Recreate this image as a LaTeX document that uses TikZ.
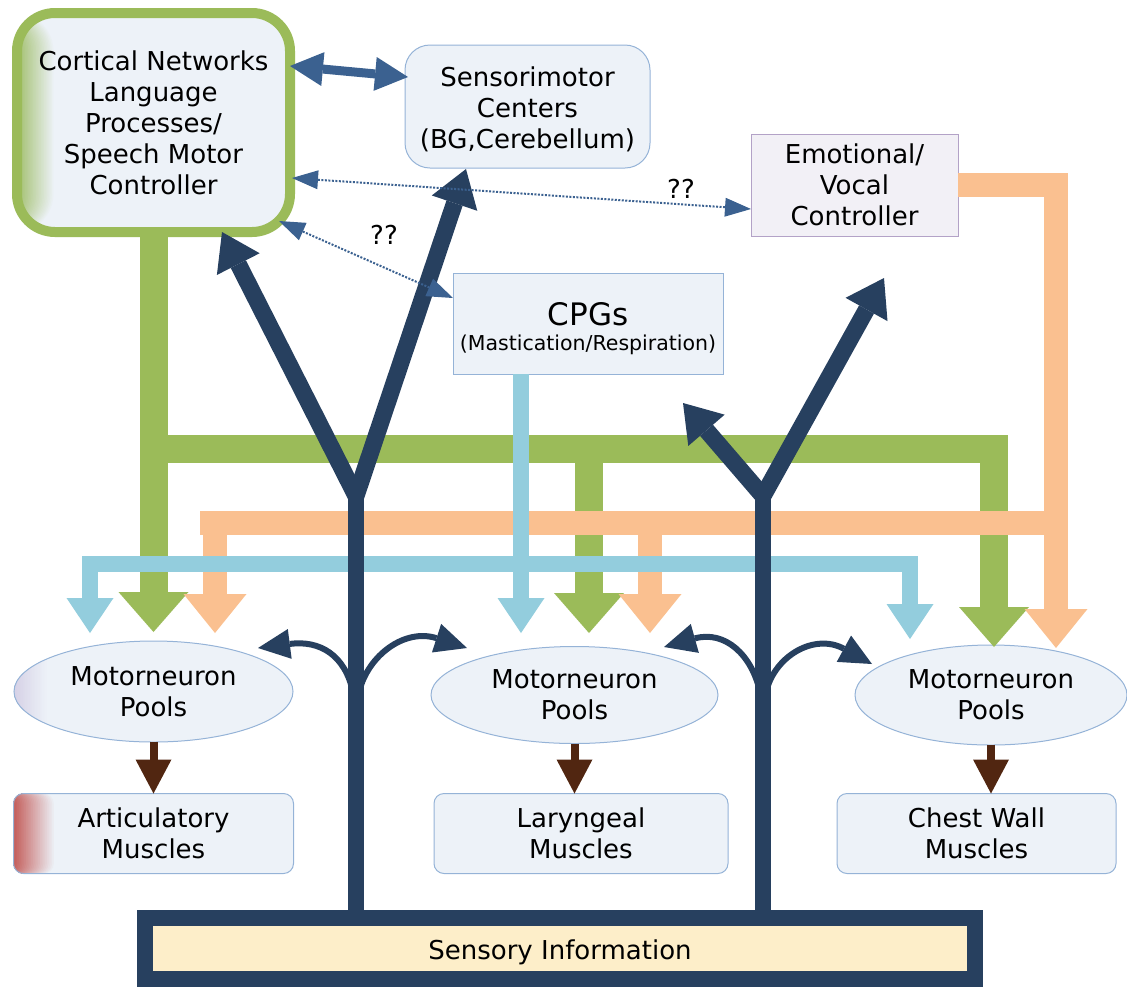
\documentclass[tikz,border=0pt]{standalone}
\usepackage{fontspec}
\setmainfont{DejaVu Sans}
\usetikzlibrary{arrows.meta,shapes.geometric}
\definecolor{navy}{HTML}{27405F}
\definecolor{grn}{HTML}{9BBB59}
\definecolor{org}{HTML}{FAC090}
\definecolor{lblue}{HTML}{93CDDD}
\definecolor{boxfill}{HTML}{EDF2F8}
\definecolor{boxline}{HTML}{95B3D7}
\definecolor{emofill}{HTML}{F2F0F6}
\definecolor{emoline}{HTML}{B3A2C7}
\definecolor{midblue}{HTML}{3B6190}
\definecolor{brwn}{HTML}{512611}
\definecolor{cream}{HTML}{FDEEC9}
\definecolor{redgrad}{HTML}{C45F5C}
\definecolor{lavgrad}{HTML}{D6D1E6}
\definecolor{grngrad}{HTML}{A3C06F}
\begin{document}
\begin{tikzpicture}[x=1pt,y=-1pt,
  txt/.style={font=\fontsize{26}{31}\selectfont, align=center, text=black},
  box/.style={txt, draw=boxline, line width=1pt, fill=boxfill, inner sep=0pt, outer sep=0pt},
  leftshade/.style 2 args={path picture={
     \foreach \i in {24,23,...,1} {
       \pgfmathsetmacro\pct{100-100*(\i-1)/23}
       \fill[#1!\pct!boxfill] (path picture bounding box.south west)
          rectangle ([xshift=\i*#2/24]path picture bounding box.north west);
     }}},
  grnband/.style={draw=grn, line width=28pt},
  grnarrow/.style={grnband, -{Triangle[length=40pt,width=70pt,line width=0pt]}},
  orgband/.style={draw=org, line width=24pt},
  orgarrow/.style={orgband, -{Triangle[length=39pt,width=63pt,line width=0pt]}},
  blueband/.style={draw=lblue, line width=16pt},
  bluearrow/.style={blueband, -{Triangle[length=35pt,width=47pt,line width=0pt]}},
  navyline/.style={draw=navy, line width=16pt},
  navyarrow/.style={draw=navy, line width=17pt, -{Triangle[length=36pt,width=48pt,line width=0pt]}},
  curvearrow/.style={draw=navy, line width=6pt, -{Triangle[length=32pt,width=30pt,line width=0pt]}},
  brownarrow/.style={draw=brwn, line width=8pt, -{Triangle[length=34pt,width=36pt,line width=0pt]}},
  dblarrow/.style={draw=midblue, line width=9pt, {Triangle[length=33pt,width=34pt,line width=0pt]}-{Triangle[length=33pt,width=34pt,line width=0pt]}},
  dotarrow/.style={draw=midblue, line width=2pt, dash pattern=on 2pt off 1.5pt, {Triangle[length=26pt,width=19pt,line width=0pt]}-{Triangle[length=26pt,width=19pt,line width=0pt]}}
]
\useasboundingbox (0,0) rectangle (1127,986);

% ---------- nodes ----------
\node[box, draw=grn, line width=10pt, rounded corners=38pt, minimum width=273pt, minimum height=219pt,
      leftshade={grngrad}{38pt}] (cort) at (153.5,122.5)
      {Cortical Networks\\Language\\Processes/\\Speech Motor\\Controller};
\node[box, rounded corners=25pt, minimum width=245pt, minimum height=123pt] (sm) at (527.5,106.5)
      {\rule{0pt}{26pt}Sensorimotor\\Centers\\(BG,Cerebellum)};
\node[box, draw=emoline, fill=emofill, minimum width=207pt, minimum height=102pt] (emo) at (854.5,185)
      {Emotional/\\Vocal\\Controller};
\node[box, font=\fontsize{20.5}{25}\selectfont, minimum width=270pt, minimum height=101pt] (cpg) at (588,323.5)
      {{\fontsize{31}{31}\selectfont\rule{0pt}{33pt}CPGs}\\(Mastication/Respiration)};

\node[box, ellipse, minimum width=279pt, minimum height=101pt, leftshade={lavgrad}{34pt}] (mpL) at (153.5,691.5) {Motorneuron\\Pools};
\node[box, ellipse, minimum width=287pt, minimum height=97pt] (mpM) at (574.5,695) {Motorneuron\\Pools};
\node[box, ellipse, minimum width=272pt, minimum height=100pt] (mpR) at (991,695) {Motorneuron\\Pools};

\node[box, rounded corners=10pt, minimum width=280pt, minimum height=80pt, leftshade={redgrad}{42pt}] (art) at (153.5,833.5) {Articulatory\\Muscles};
\node[box, rounded corners=10pt, minimum width=294pt, minimum height=80pt] (lar) at (581,833.5) {Laryngeal\\Muscles};
\node[box, rounded corners=10pt, minimum width=279pt, minimum height=80pt] (chest) at (976.5,833.5) {Chest Wall\\Muscles};

\node[txt, draw=navy, line width=16pt, fill=cream, inner sep=0pt, outer sep=0pt,
      minimum width=830pt, minimum height=61pt] (sens) at (560,948) {\rule{0pt}{29pt}Sensory Information};

\node[txt, anchor=base] (q1) at (384,244) {??};
\node[txt, anchor=base] (q2) at (681,198) {??};

% ---------- coordinates ----------
\coordinate (gL) at (153.5,632);
\coordinate (gBandR) at (994,449);
\coordinate (gR) at (994,647);
\coordinate (gMtop) at (589,449);
\coordinate (gM) at (589,633);
\coordinate (oC) at (1056,185);
\coordinate (oR) at (1056,648);
\coordinate (oBandL) at (200,523);
\coordinate (oBandR) at (1056,523);
\coordinate (oL1) at (215,523);
\coordinate (oL2) at (215,633);
\coordinate (oM1) at (650,523);
\coordinate (oM2) at (650,633);
\coordinate (bV) at (521,633);
\coordinate (bL) at (90,633);
\coordinate (bLtop) at (90,564);
\coordinate (bRtop) at (910,564);
\coordinate (bR) at (910,639);
\coordinate (junL) at (356,492);
\coordinate (junR) at (763,492);
\coordinate (tipR1) at (683,403);
\coordinate (tipR2) at (884,278);
\coordinate (cL1) at (258,648);
\coordinate (cL2) at (467,648);
\coordinate (cR1) at (664,647);
\coordinate (cR2) at (872,664);

% ---------- green ----------
\draw[grnarrow] (cort.south) -- (gL);
\draw[grnarrow] (cort.south |- gBandR) -- (gBandR) -- (gR);
\draw[grnarrow] (gMtop) -- (gM);

% ---------- orange ----------
\draw[orgarrow] (emo.east) -- (oC) -- (oR);
\draw[orgband] (oBandL) -- (oBandR);
\draw[orgarrow] (oL1) -- (oL2);
\draw[orgarrow] (oM1) -- (oM2);

% ---------- light blue ----------
\draw[bluearrow] ([xshift=-67pt]cpg.south) -- (bV);
\draw[blueband, {Triangle[length=35pt,width=47pt,line width=0pt]}-{Triangle[length=35pt,width=47pt,line width=0pt]}]
   (bL) -- (bLtop) -- (bRtop) -- (bR);

% ---------- navy ----------
\draw[navyline] (sens.north -| junL) -- ([yshift=6pt]junL);
\draw[navyline] (sens.north -| junR) -- ([yshift=6pt]junR);
\draw[navyarrow] ([yshift=-4pt]junL) -- ([xshift=68.5pt]cort.south);
\draw[navyarrow] ([yshift=-4pt]junL) -- ([xshift=-61.5pt,yshift=-1pt]sm.south);
\draw[navyarrow] ([yshift=-4pt]junR) -- (tipR1);
\draw[navyarrow] ([yshift=-4pt]junR) -- (tipR2);

\draw[curvearrow] (353,692) .. controls (345,655) and (320,640) .. (cL1);
\draw[curvearrow] (359,692) .. controls (368,655) and (405,628) .. (cL2);
\draw[curvearrow] (760,692) .. controls (752,655) and (725,630) .. (cR1);
\draw[curvearrow] (766,692) .. controls (775,655) and (815,633) .. (cR2);

% ---------- brown ----------
\draw[brownarrow] (mpL.south) -- (mpL.south |- art.north);
\draw[brownarrow] (mpM.south) -- (mpM.south |- lar.north);
\draw[brownarrow] (mpR.south) -- (mpR.south |- chest.north);

% ---------- blue links ----------
\draw[dblarrow] ([yshift=56.5pt]cort.east) -- ([xshift=3pt,yshift=29.5pt]sm.west);
\draw[dotarrow] ([xshift=2pt,yshift=-55.5pt]cort.east) -- ([yshift=-24pt]emo.west);
\draw[dotarrow] ([xshift=-11pt,yshift=11pt]cort.south east) -- ([yshift=25.5pt]cpg.west);
\end{tikzpicture}
\end{document}
